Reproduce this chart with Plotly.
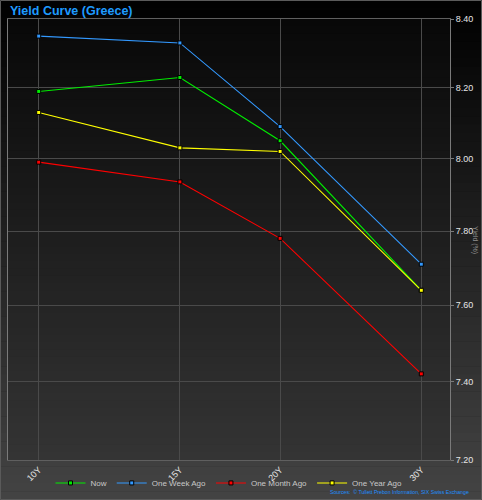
import plotly.graph_objects as go

# ---- data ----
tenors = ["10Y", "15Y", "20Y", "30Y"]
tenor_years = [10, 15, 20, 30]
now = [8.19, 8.23, 8.05, 7.64]
one_week_ago = [8.35, 8.33, 8.09, 7.71]
one_month_ago = [7.99, 7.935, 7.78, 7.42]
one_year_ago = [8.13, 8.03, 8.02, 7.64]
y_ticks = [7.20, 7.40, 7.60, 7.80, 8.00, 8.20, 8.40]

series = [
    ("Now", now, "#00ee00"),
    ("One Week Ago", one_week_ago, "#3399ff"),
    ("One Month Ago", one_month_ago, "#ff0000"),
    ("One Year Ago", one_year_ago, "#ffff00"),
]

W, H = 482, 500
ML, MR, MT, MB = 8, 32, 19, 40
PW, PH = W - ML - MR, H - MT - MB

fig = go.Figure()
for name, vals, col in series:
    fig.add_trace(go.Scatter(
        x=tenor_years, y=vals, name=name, mode="lines+markers",
        line=dict(color=col, width=1.1),
        marker=dict(symbol="square", size=4, color=col,
                    line=dict(color="#000000", width=1)),
    ))

def mix(c0, c1, t):
    return "rgb(%d,%d,%d)" % tuple(round(a + (b - a) * t) for a, b in zip(c0, c1))

shapes = []
# whole-figure gradient
N = 60
x0p, x1p = -ML / PW, 1 + MR / PW
for i in range(N):
    ya = 1 + MT / PH - (H / PH) * i / N
    yb = 1 + MT / PH - (H / PH) * (i + 1) / N
    shapes.append(dict(type="rect", xref="paper", yref="paper", x0=x0p, x1=x1p,
                       y0=yb, y1=ya + 0.001, layer="below", line=dict(width=0),
                       fillcolor=mix((0, 0, 0), (68, 68, 68), (i + 0.5) / N)))
# plot-area gradient
for i in range(N):
    ya = 1 - i / N
    yb = 1 - (i + 1) / N
    shapes.append(dict(type="rect", xref="paper", yref="paper", x0=0, x1=1,
                       y0=yb, y1=ya + 0.001, layer="below", line=dict(width=0),
                       fillcolor=mix((8, 8, 8), (52, 52, 52), (i + 0.5) / N)))
# outer border
shapes.append(dict(type="rect", xref="paper", yref="paper", x0=x0p + 0.5 / PW, x1=x1p - 0.5 / PW,
                   y0=-MB / PH + 0.5 / PH, y1=1 + MT / PH - 0.5 / PH, layer="above",
                   line=dict(color="#5a5a5a", width=1), fillcolor="rgba(0,0,0,0)"))

fig.update_layout(
    width=W, height=H,
    margin=dict(l=ML, r=MR, t=MT, b=MB, autoexpand=False),
    paper_bgcolor="#000000", plot_bgcolor="rgba(0,0,0,0)",
    font=dict(family="Liberation Sans, Arial, sans-serif", color="#e6e6e6", size=9),
    shapes=shapes,
    showlegend=True,
    legend=dict(orientation="h", x=0.5, xanchor="center", y=-0.052, yanchor="middle",
                font=dict(size=8, color="#c8c8c8"), bgcolor="rgba(0,0,0,0)",
                itemwidth=30, tracegroupgap=0),
    xaxis=dict(type="log", range=[0.9617, 1.5129], tickvals=tenor_years, ticktext=tenors,
               tickangle=-45, showgrid=True, gridcolor="#4a4a4a", gridwidth=1,
               showline=True, linecolor="#5f5f5f", mirror=True, zeroline=False,
               ticks="", automargin=False, tickfont=dict(size=9, color="#e6e6e6")),
    yaxis=dict(type="log", side="right", range=[0.857332, 0.924279],
               tickvals=y_ticks, ticktext=["%.2f" % v for v in y_ticks],
               showgrid=True, gridcolor="#4a4a4a", gridwidth=1,
               showline=True, linecolor="#7a7a7a", mirror=True, zeroline=False,
               ticks="outside", ticklen=3, tickcolor="#7a7a7a", automargin=False,
               tickfont=dict(size=9, color="#e6e6e6")),
    annotations=[
        dict(text="Yield Curve (Greece)", xref="paper", yref="paper",
             x=(8 - ML) / PW, y=(PH + MT - 11) / PH, xanchor="left", yanchor="middle",
             showarrow=False, font=dict(size=12.5, color="#1e9bff", weight="bold",
                                        family="Liberation Sans, Arial, sans-serif")),
        dict(text="Yield (%)", xref="paper", yref="paper", x=(475 - ML) / PW, y=(PH + MT - 240) / PH,
             textangle=90, showarrow=False, xanchor="center", yanchor="middle",
             font=dict(size=7, color="#8a8a8a")),
        dict(text="Sources:  © Tullett Prebon Information, SIX Swiss Exchange",
             xref="paper", yref="paper", x=(471 - ML) / PW, y=(PH + MT - 492) / PH,
             xanchor="right", yanchor="middle", showarrow=False,
             font=dict(size=5.2, color="#1e90ff")),
    ],
)

fig.write_html("out.html")
